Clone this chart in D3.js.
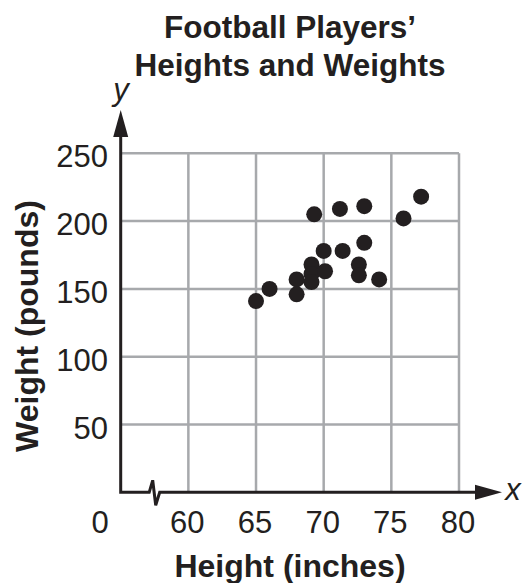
<!DOCTYPE html>
<html>

<head>
  <title>Football Players' Heights and Weights</title>
  <script src="https://d3js.org/d3.v7.min.js"></script>

  <style type="text/css">
    body {
      margin: 0;
      background: #fff;
    }

    svg {
      font-family: "Liberation Sans", Arial, sans-serif;
    }

    svg .tick-label {
      font-size: 31px;
      fill: #231f20;
    }

    svg .axis-title {
      font-size: 32px;
      font-weight: bold;
      fill: #231f20;
    }
  </style>
</head>

<body>
  <div id="chart"></div>

  <script type="text/javascript">
    // values
    var heights = [65, 66, 68, 68, 69.1, 69.1, 69.1, 70, 70.1, 71.4, 72.6, 72.6, 73, 74.1, 69.3, 71.2, 73, 75.9, 77.2];
    var weights = [141, 150, 157, 146, 168, 161, 155, 178, 163, 178, 168, 160, 184, 157, 205, 209, 211, 202, 218];
    var xTicks = [60, 65, 70, 75, 80];
    var yTicks = [50, 100, 150, 200, 250];
    var titleLines = ["Football Players\u2019", "Heights and Weights"];

    var width = 522, height = 583;
    var ink = "#231f20", gridColor = "#a7a9ac";

    var svg = d3.select("#chart").append("svg")
      .attr("width", width)
      .attr("height", height);

    // x starts at 55 where the axis is broken, y starts at 0
    var x = d3.scaleLinear().domain([55, 80]).range([120.7, 459]);
    var y = d3.scaleLinear().domain([0, 250]).range([492.3, 153.3]);

    var points = heights.map(function (h, i) { return { h: h, w: weights[i] }; });

    // grid
    svg.append("g").selectAll("line")
      .data(xTicks)
      .enter().append("line")
      .attr("x1", function (d) { return x(d); })
      .attr("x2", function (d) { return x(d); })
      .attr("y1", y(250))
      .attr("y2", y(0))
      .attr("stroke", gridColor)
      .attr("stroke-width", 2.5);

    svg.append("g").selectAll("line")
      .data(yTicks)
      .enter().append("line")
      .attr("x1", x(55))
      .attr("x2", x(80))
      .attr("y1", function (d) { return y(d); })
      .attr("y2", function (d) { return y(d); })
      .attr("stroke", gridColor)
      .attr("stroke-width", 2.5);

    // axes
    var x0 = x(55), y0 = y(0);
    svg.append("path")
      .attr("d", "M" + x0 + "," + (y(250) - 20) + "L" + x0 + "," + y0 +
        "L" + (x0 + 28.5) + "," + y0 +
        "L" + (x0 + 32) + "," + (y0 - 12) +
        "L" + (x0 + 35) + "," + (y0 + 13) +
        "L" + (x0 + 39) + "," + y0 +
        "L" + 478 + "," + y0)
      .attr("fill", "none")
      .attr("stroke", ink)
      .attr("stroke-width", 3)
      .attr("stroke-linejoin", "miter");

    // arrow heads
    svg.append("path")
      .attr("d", "M475," + (y0 - 7.5) + "L502," + y0 + "L475," + (y0 + 7.5) + "Z")
      .attr("fill", ink);
    svg.append("path")
      .attr("d", "M" + (x0 - 7.5) + ",137L" + x0 + ",110L" + (x0 + 7.5) + ",137Z")
      .attr("fill", ink);

    svg.append("text")
      .attr("x", 513)
      .attr("y", 500)
      .attr("text-anchor", "middle")
      .style("font-size", "31px")
      .style("font-style", "italic")
      .attr("fill", ink)
      .text("x");

    svg.append("text")
      .attr("x", 121)
      .attr("y", 100)
      .attr("text-anchor", "middle")
      .style("font-size", "31px")
      .style("font-style", "italic")
      .attr("fill", ink)
      .text("y");

    // tick labels
    svg.append("g").selectAll("text")
      .data(yTicks)
      .enter().append("text")
      .attr("class", "tick-label")
      .attr("x", 108)
      .attr("y", function (d) { return y(d) + 14; })
      .attr("text-anchor", "end")
      .text(function (d) { return d; });

    svg.append("g").selectAll("text")
      .data(xTicks)
      .enter().append("text")
      .attr("class", "tick-label")
      .attr("x", function (d) { return x(d) - 1; })
      .attr("y", 533)
      .attr("text-anchor", "middle")
      .text(function (d) { return d; });

    svg.append("text")
      .attr("class", "tick-label")
      .attr("x", 100)
      .attr("y", 533)
      .attr("text-anchor", "middle")
      .text("0");

    // titles
    svg.append("g").selectAll("text")
      .data(titleLines)
      .enter().append("text")
      .attr("class", "axis-title")
      .attr("x", 290)
      .attr("y", function (d, i) { return 38 + i * 38; })
      .attr("text-anchor", "middle")
      .style("font-size", "31.5px")
      .text(function (d) { return d; });

    svg.append("text")
      .attr("class", "axis-title")
      .attr("x", 290)
      .attr("y", 577)
      .attr("text-anchor", "middle")
      .text("Height (inches)");

    svg.append("text")
      .attr("class", "axis-title")
      .attr("transform", "translate(38,326) rotate(-90)")
      .attr("text-anchor", "middle")
      .text("Weight (pounds)");

    // points
    svg.append("g").selectAll("circle")
      .data(points)
      .enter().append("circle")
      .attr("cx", function (d) { return x(d.h); })
      .attr("cy", function (d) { return y(d.w); })
      .attr("r", 8)
      .attr("fill", ink);
  </script>
</body>

</html>
